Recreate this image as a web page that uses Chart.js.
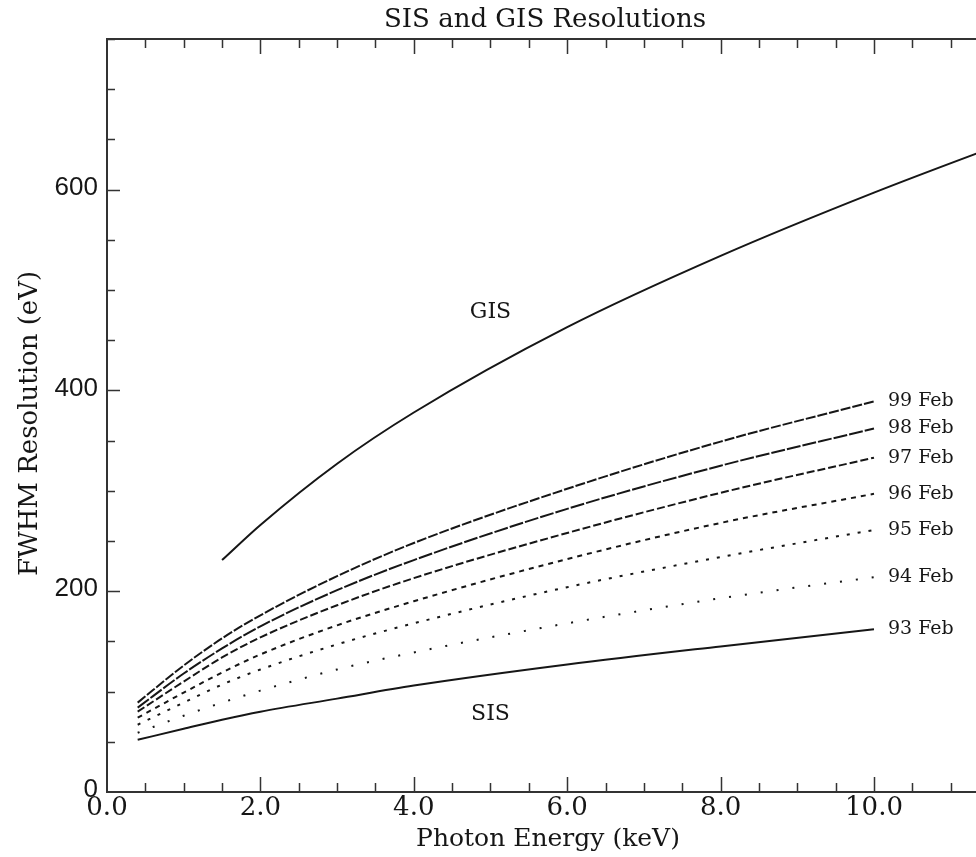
<!DOCTYPE html>
<html>
<head>
<meta charset="utf-8">
<title>SIS and GIS Resolutions</title>
<script src="https://cdn.jsdelivr.net/npm/chart.js@4.4.1/dist/chart.umd.min.js"></script>
<style>
  body { margin: 0; background: #fff; }
  #resolutions { display: block; }
</style>
</head>
<body>
<canvas id="resolutions" width="976" height="857"></canvas>
<script>
var energySIS = [0.4, 1, 1.5, 2, 3, 4, 6, 8, 10];
var energyGIS = [1.5, 2, 3, 4, 6, 8, 10, 12];

// FWHM resolution (eV)
var gis   = [231, 266, 327, 378, 463, 534, 597, 655];
var feb99 = [89, 126, 153, 176, 215, 248, 302, 349, 389];
var feb98 = [84, 118, 143, 165, 201, 231, 282, 325, 362];
var feb97 = [80, 110, 134, 154, 186, 213, 258, 298, 333];
var feb96 = [74, 99, 119, 137, 166, 190, 232, 268, 297];
var feb95 = [67, 89, 107, 122, 147, 168, 204, 234, 261];
var feb94 = [59, 76, 89, 101, 122, 139, 168, 193, 214];
var feb93 = [52, 63, 72, 80, 93, 106, 127, 145, 162];

var sisNames = ['99 Feb', '98 Feb', '97 Feb', '96 Feb', '95 Feb', '94 Feb', '93 Feb'];
var sisSeries = [feb99, feb98, feb97, feb96, feb95, feb94, feb93];
var sisDashes = [[10, 2], [14, 2], [8, 3], [5, 5], [3, 8], [2, 14], []];

var xTickLabels = ['0.0', '2.0', '4.0', '6.0', '8.0', '10.0'];
var yTickLabels = ['0', '200', '400', '600'];

var ink = '#161616';

function toPoints(xs, ys) {
    var pts = [];
    for (var i = 0; i < xs.length; i++) pts.push({x: xs[i], y: ys[i]});
    return pts;
}

var datasets = [{
    label: 'GIS',
    data: toPoints(energyGIS, gis),
    borderColor: ink,
    borderWidth: 2,
    borderDash: []
}];
for (var i = 0; i < sisSeries.length; i++) {
    datasets.push({
        label: sisNames[i],
        data: toPoints(energySIS, sisSeries[i]),
        borderColor: ink,
        borderWidth: 2,
        borderDash: sisDashes[i]
    });
}

// frame, inward ticks and all the text, placed with the chart's scales
var framePlugin = {
    id: 'frame',
    afterDraw: function(chart) {
        var c = chart.ctx, a = chart.chartArea;
        var xs = chart.scales.x, ys = chart.scales.y;
        c.save();
        c.strokeStyle = '#333';
        c.lineWidth = 2;
        c.beginPath();
        c.moveTo(a.right + 2, a.top);
        c.lineTo(a.left, a.top);
        c.lineTo(a.left, a.bottom);
        c.lineTo(a.right + 2, a.bottom);
        c.stroke();

        c.lineWidth = 1.5;
        c.beginPath();
        for (var v = 0.5; v <= xs.max; v += 0.5) {
            var px = Math.round(xs.getPixelForValue(v)) + 0.5;
            var len = (v % 2 === 0) ? 15 : 9;
            c.moveTo(px, a.bottom); c.lineTo(px, a.bottom - len);
            c.moveTo(px, a.top); c.lineTo(px, a.top + len);
        }
        for (var w = 50; w <= ys.max; w += 50) {
            var py = Math.round(ys.getPixelForValue(w)) + 0.5;
            var l2 = (w % 200 === 0) ? 13 : 8;
            c.moveTo(a.left, py); c.lineTo(a.left + l2, py);
        }
        c.stroke();

        c.fillStyle = ink;
        // x tick labels
        c.font = '26px "DejaVu Serif"';
        c.textAlign = 'center';
        c.textBaseline = 'top';
        for (var k = 0; k < xTickLabels.length; k++) {
            c.fillText(xTickLabels[k], xs.getPixelForValue(k * 2), a.bottom + 3);
        }
        // y tick labels
        c.font = '26px "Liberation Sans"';
        c.textAlign = 'right';
        c.textBaseline = 'middle';
        for (var m = 0; m < yTickLabels.length; m++) {
            c.fillText(yTickLabels[m], a.left - 9, ys.getPixelForValue(m * 200) - 2);
        }

        // titles
        c.textAlign = 'center';
        c.font = '26px "DejaVu Serif"';
        c.fillText('SIS and GIS Resolutions', 545, 20);
        c.font = '25px "DejaVu Serif"';
        c.fillText('Photon Energy (keV)', 548, 839);
        c.save();
        c.translate(30, (a.top + a.bottom) / 2 + 8);
        c.rotate(-Math.PI / 2);
        c.font = '26px "DejaVu Serif"';
        c.fillText('FWHM Resolution (eV)', 0, 0);
        c.restore();

        // curve names
        c.font = '22px "DejaVu Serif"';
        c.fillText('GIS', xs.getPixelForValue(5.0), ys.getPixelForValue(478));
        c.fillText('SIS', xs.getPixelForValue(5.0), ys.getPixelForValue(77));

        c.font = '19px "DejaVu Serif"';
        c.textAlign = 'left';
        for (var d = 1; d < chart.data.datasets.length; d++) {
            var pts = chart.getDatasetMeta(d).data;
            var last = pts[pts.length - 1];
            c.fillText(chart.data.datasets[d].label, last.x + 14, last.y);
        }
        c.restore();
    }
};

var ctx = document.getElementById('resolutions');
var myChart = new Chart(ctx, {
    type: 'line',
    data: { datasets: datasets },
    options: {
        responsive: false,
        animation: false,
        layout: { padding: { left: 107, top: 39, right: 0, bottom: 65 } },
        elements: {
            point: { radius: 0 },
            line: { cubicInterpolationMode: 'monotone', fill: false }
        },
        plugins: {
            legend: { display: false },
            tooltip: { enabled: false }
        },
        scales: {
            x: { type: 'linear', min: 0, max: 11.33, display: false },
            y: { type: 'linear', min: 0, max: 750, display: false }
        }
    },
    plugins: [framePlugin]
});
</script>
</body>
</html>
